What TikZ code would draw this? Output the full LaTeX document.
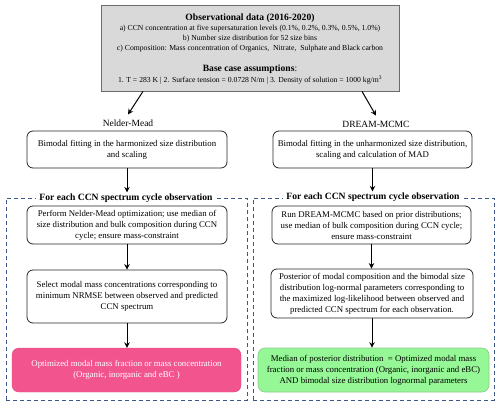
\documentclass[tikz,border=0pt]{standalone}
\usepackage{fontspec}
\setmainfont{Liberation Serif}
\usetikzlibrary{arrows.meta}
\definecolor{topfill}{HTML}{D9D9D9}
\definecolor{topdraw}{HTML}{6B6B6B}
\definecolor{dashblue}{HTML}{3B5787}
\definecolor{pinkfill}{HTML}{F2558E}
\definecolor{greenfill}{HTML}{95F795}
\definecolor{greendraw}{HTML}{8CC98C}
\tikzset{
  stepbox/.style={draw=black!85, line width=0.8pt, rounded corners=6pt, align=center,
    font=\fontsize{8.8}{11}\selectfont, inner sep=1pt},
  topline/.style={font=\fontsize{7.7}{9}\selectfont, inner sep=0pt},
  toptitle/.style={font=\fontsize{9.6}{11}\selectfont\bfseries, inner sep=0pt},
  dashbox/.style={draw=dashblue, line width=1pt, dash pattern=on 4pt off 3pt},
  headtext/.style={font=\fontsize{9.6}{11}\selectfont\bfseries, fill=white, inner xsep=3pt, inner ysep=1pt},
  methodlabel/.style={font=\fontsize{9.5}{11}\selectfont, inner sep=0pt},
  arr/.style={-{Stealth[length=5.5pt,width=5.5pt]}, line width=1pt, black},
  resultbox/.style={rounded corners=7pt, align=center, font=\fontsize{8.8}{11}\selectfont, inner sep=1pt},
}
\begin{document}
\begin{tikzpicture}[x=1pt,y=-1pt]
\useasboundingbox (0,0) rectangle (500,407);
% top box
\node[draw=topdraw, fill=topfill, line width=0.8pt, minimum width=298pt, minimum height=86pt, inner sep=0pt] (top) at (250,48) {};
\node[toptitle] (t1) at (250,18) {Observational data (2016-2020)};
\node[topline] (ta) at (250,29) {a) CCN concentration at five supersaturation levels (0.1\%, 0.2\%, 0.3\%, 0.5\%, 1.0\%)};
\node[topline] (tb) at (250,39) {b) Number size distribution for 52 size bins};
\node[topline] (tc) at (250,49) {c) Composition: Mass concentration of Organics,\ \ Nitrate,\ \ Sulphate and Black carbon};
\node[toptitle] (tbase) at (250,69) {Base case assumptions{\mdseries:}};
\node[topline] (tl) at (250,80) {1. T = 283 K | 2. Surface tension = 0.0728 N/m | 3. Density of solution = 1000 kg/m\textsuperscript{3}};

% method labels
\node[methodlabel] (nm) at (128,123) {Nelder-Mead};
\node[methodlabel] (dm) at (376,124) {DREAM-MCMC};
\draw[arr] ([xshift=-107pt]top.south) -- ([yshift=5pt]nm.north);
\draw[arr] ([xshift=112pt]top.south) -- ([yshift=5pt]dm.north);

% first boxes
\node[stepbox, minimum width=200pt, minimum height=37pt] (l1) at (127,149.5)
  {Bimodal fitting in the harmonized size distribution\\and scaling};
\node[stepbox, minimum width=199pt, minimum height=37pt] (r1) at (372.5,149.5)
  {Bimodal fitting in the unharmonized size distribution,\\scaling and calculation of MAD};

% dashed frames
\node[dashbox, minimum width=241pt, minimum height=202pt, inner sep=0pt] (ld) at (126.5,299) {};
\node[dashbox, minimum width=241pt, minimum height=202pt, inner sep=0pt] (rd) at (373.5,299) {};
\node[headtext] (lh) at (126,198) {For each CCN spectrum cycle observation};
\node[headtext] (rh) at (373,197) {For each CCN spectrum cycle observation};

\draw[arr] (l1.south) -- (l1.south |- lh.north);
\draw[arr] (r1.south) -- (r1.south |- rh.north);

% inner boxes
\node[stepbox, minimum width=200pt, minimum height=38pt] (l2) at (127,225)
  {Perform Nelder-Mead optimization; use median of\\size distribution and bulk composition during CCN\\cycle; ensure mass-constraint};
\node[stepbox, minimum width=199pt, minimum height=38pt] (r2) at (371.5,225)
  {Run DREAM-MCMC based on prior distributions;\\use median of bulk composition during CCN cycle;\\ensure mass-constraint};
\node[stepbox, minimum width=200pt, minimum height=53pt] (l3) at (127,296.5)
  {Select modal mass concentrations corresponding to\\minimum NRMSE between observed and predicted\\CCN spectrum};
\node[stepbox, minimum width=202pt, minimum height=49pt] (r3) at (372,293.5)
  {Posterior of modal composition and the bimodal size\\distribution log-normal parameters corresponding to\\the maximized log-likelihood between observed and\\predicted CCN spectrum for each observation.};

\draw[arr] (l2.south) -- (l3.north);
\draw[arr] (r2.south) -- (r2.south |- r3.north);

% results
\node[resultbox, fill=pinkfill, draw=pinkfill!90!black, line width=0.4pt, text=white,
  minimum width=229pt, minimum height=44pt] (lp) at (126.5,370)
  {Optimized modal mass fraction or mass concentration\\(Organic, inorganic and eBC )};
\node[resultbox, fill=greenfill, draw=greendraw, line width=0.6pt,
  minimum width=231pt, minimum height=44pt] (rg) at (373.5,370)
  {Median of posterior distribution\ \ = Optimized modal mass\\fraction or mass concentration (Organic, inorganic and eBC)\\AND bimodal size distribution lognormal parameters};

\draw[arr] (l3.south) -- (l3.south |- lp.north);
\draw[arr] (r3.south) -- (r3.south |- rg.north);
\end{tikzpicture}
\end{document}
